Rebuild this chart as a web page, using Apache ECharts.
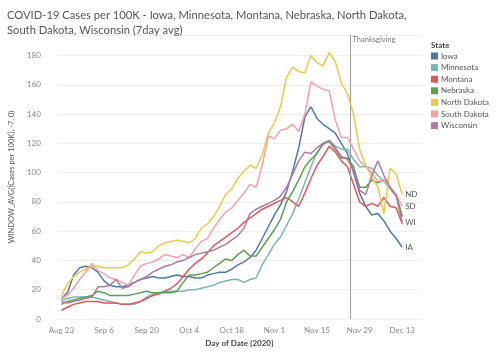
<!DOCTYPE html>
<html>
<head>
<meta charset="utf-8">
<script src="https://cdn.jsdelivr.net/npm/echarts@6/dist/echarts.min.js"></script>
<style>
  html, body { margin: 0; padding: 0; background: #fff; }
  #main { width: 500px; height: 352px; }
</style>
</head>
<body>
<div id="main"></div>
<script>
// days since Aug 23, 2020 (every second day)
var dayOffsets = [0,2,4,6,8,10,12,14,16,18,20,22,24,26,28,30,32,34,36,38,40,42,44,46,48,50,52,54,56,58,
                  60,62,64,66,68,70,72,74,76,78,80,82,84,86,88,90,92,94,96,98,100,102,104,106,108,110,112];
var tickDays = [0,14,28,42,56,70,84,98,112];
var tickLabels = ['Aug 23','Sep 6','Sep 20','Oct 4','Oct 18','Nov 1','Nov 15','Nov 29','Dec 13'];
var thanksgivingDay = 95;

var states = ['Iowa','Minnesota','Montana','Nebraska','North Dakota','South Dakota','Wisconsin'];
var colors = ['#4e79a7','#76b7b2','#e15759','#59a14f','#edc948','#ff9da7','#b07aa1'];
var endTags = ['IA', '', '', '', 'ND', 'SD', 'WI'];

var iowa = [14,18,30,35,36,35,32,26,23,22, 22,23,25,27,28,29,28,28,29,30, 29,29,28,28,30,31,32,32,34,37,
            39,42,47,55,63,71,78,87,101,117, 138,145,137,133,130,127,120,113,100,86, 77,71,72,67,60,55,49];
var minnesota = [13,14,15,15,15,15,14,13,12,11, 10,10,10,12,15,17,18,19,19,19, 19,20,20,21,22,23,25,26,27,27,
                 25,27,28,37,44,51,56,64,72,82, 93,104,114,119,122,118,116,116,109,104, 104,103,98,94,89,84,70];
var montana = [6,8,10,11,12,12,12,11,11,11, 10,10,11,12,14,16,17,19,21,24, 29,34,38,41,45,50,53,56,59,62,
               66,69,72,75,77,79,81,83,80,77, 86,96,105,111,118,114,108,104,92,80, 77,79,77,83,77,76,65];
var nebraska = [10,12,13,14,15,16,19,18,16,16, 16,16,17,18,19,18,18,18,18,19, 25,30,30,31,32,35,38,41,40,44,
                47,43,43,49,55,61,68,80,87,95, 104,109,113,120,121,116,110,110,104,90, 90,95,93,95,90,85,70];
var northDakota = [16,24,29,32,34,36,36,35,35,35, 35,37,41,46,45,46,50,52,53,54, 53,52,55,62,65,70,77,85,89,96,
                   101,105,103,112,127,134,145,165,172,169, 168,180,175,173,182,176,161,154,140,116, 105,97,90,72,103,99,85];
var southDakota = [14,16,21,27,32,38,33,31,28,27, 25,23,30,36,38,39,41,44,43,42, 44,42,48,53,55,62,68,73,76,81,
                   86,92,90,105,125,123,129,130,133,128, 140,162,159,157,156,136,124,124,116,108, 104,100,94,95,89,85,77];
var wisconsin = [12,11,12,13,14,15,22,22,23,27, 21,22,25,27,29,32,34,36,37,39, 40,42,44,45,46,47,49,51,54,57,
                 62,72,75,77,79,81,84,90,99,108, 114,113,117,120,122,117,111,109,102,88, 85,98,108,98,90,84,66];

var values = [iowa, minnesota, montana, nebraska, northDakota, southDakota, wisconsin];
var font = 'Lato, "Open Sans", sans-serif';
var yMax = 194;

var chart = echarts.init(document.getElementById('main'));

var series = states.map(function (name, k) {
    return {
        name: name,
        type: 'line',
        showSymbol: false,
        symbol: 'none',
        data: dayOffsets.map(function (d, i) { return [d, values[k][i]]; }),
        lineStyle: { width: 1.5, color: colors[k] },
        itemStyle: { color: colors[k] },
        z: 2 + k,
        endLabel: {
            show: endTags[k] !== '',
            formatter: function () { return endTags[k]; },
            color: '#555',
            fontSize: 8,
            fontFamily: font,
            distance: 3
        }
    };
});

// Thanksgiving reference line
series.push({
    name: 'thanksgiving',
    type: 'line',
    data: [],
    markLine: {
        silent: true,
        symbol: ['none', 'none'],
        label: { show: false },
        lineStyle: { color: '#999', width: 1, type: 'solid' },
        data: [{ xAxis: thanksgivingDay }]
    }
});

var option = {
    animation: false,
    color: colors,
    textStyle: { fontFamily: font },
    title: [
        {
            text: 'COVID-19 Cases per 100K - Iowa, Minnesota, Montana, Nebraska, North Dakota,\nSouth Dakota, Wisconsin (7day avg)',
            left: 2,
            top: 3,
            textStyle: { fontSize: 11.2, fontWeight: 'normal', color: '#555', fontFamily: font, lineHeight: 15 }
        },
        {
            text: 'State',
            left: 426,
            top: 36,
            textStyle: { fontSize: 8, fontWeight: 'bold', color: '#444', fontFamily: font }
        }
    ],
    legend: {
        orient: 'vertical',
        left: 426,
        top: 47,
        icon: 'rect',
        itemWidth: 7,
        itemHeight: 7,
        itemGap: 3.6,
        data: states,
        textStyle: { fontSize: 8, color: '#555', fontFamily: font, padding: [0, 0, 0, -2] }
    },
    grid: { left: 47, right: 78, top: 35, bottom: 33 },
    xAxis: {
        type: 'value',
        min: -1.5,
        max: 118.5,
        name: 'Day of Date [2020]',
        nameLocation: 'middle',
        nameGap: 20,
        nameTextStyle: { fontSize: 8, color: '#444', fontWeight: 'bold', fontFamily: font },
        axisLine: { show: false },
        axisTick: { show: false },
        splitLine: { show: false },
        axisLabel: {
            customValues: tickDays,
            formatter: function (v) { return tickLabels[tickDays.indexOf(v)]; },
            fontSize: 8,
            color: '#888',
            margin: 7,
            fontFamily: font
        }
    },
    yAxis: {
        type: 'value',
        min: 0,
        max: yMax,
        interval: 20,
        name: 'WINDOW_AVG([Cases per 100K], -7, 0)',
        nameLocation: 'middle',
        nameRotate: 90,
        nameGap: 33,
        nameTextStyle: { fontSize: 7.5, color: '#555', fontFamily: font },
        axisLine: { show: false },
        axisTick: { show: false },
        axisLabel: {
            fontSize: 8, color: '#888', margin: 16, fontFamily: font,
            formatter: function (v) { return v % 20 === 0 ? String(v) : ''; }
        },
        splitLine: { lineStyle: { color: '#eeeeee', width: 1 } }
    },
    series: series
};

chart.setOption(option);

// annotation text placed through the chart's own scale
var tp = chart.convertToPixel({ seriesIndex: 0 }, [thanksgivingDay, yMax]);
chart.setOption({
    graphic: [{
        type: 'text',
        x: tp[0] + 2,
        y: tp[1] + 1,
        style: { text: 'Thanksgiving', fontSize: 7.5, fill: '#777', fontFamily: font }
    }]
});
</script>
</body>
</html>
